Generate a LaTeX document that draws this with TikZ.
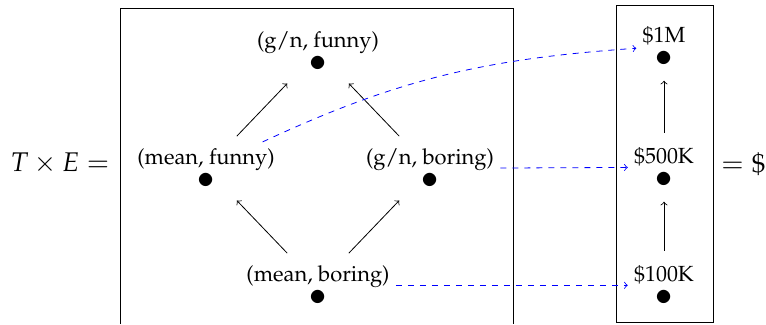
\documentclass[tikz,border=0pt,11pt]{standalone}
\usepackage[T1]{fontenc}
\usepackage{mathpazo}
\usetikzlibrary{positioning}
\newcommand{\dotmark}{\scalebox{1.5}{$\bullet$}}

\begin{document}
\begin{tikzpicture}[>=to, on grid,
      st/.style={align=center, inner sep=3pt},
      up/.style={->, shorten >=4pt, shorten <=4pt},
      map/.style={->, blue, dashed}]
    \useasboundingbox (0,0) rectangle (13.46,5.694);
    % the product T x E
    \node[st] (mb) at (5.588,0.68) {(mean, boring)\\[-1.5pt]\dotmark};
    \node[st, above left=2.056cm and 1.968cm of mb] (mf) {(mean, funny)\\[-1.5pt]\dotmark};
    \node[st, above right=2.056cm and 1.968cm of mb] (gb) {(g/n, boring)\\[-1.5pt]\dotmark};
    \node[st, above=4.112cm of mb] (gf) {(g/n, funny)\\[-1.5pt]\dotmark};
    \draw (2.109,0) |- (9.015,5.553) -- (9.015,0);
    % the chain of payoffs
    \node[st, right=6.08cm of mb] (k1) {\$100K\\[-1.5pt]\dotmark};
    \node[st, above=2.074cm of k1] (k5) {\$500K\\[-1.5pt]\dotmark};
    \node[st, above=2.126cm of k5] (m1) {\$1M\\[-1.5pt]\dotmark};
    \draw (10.825,0.035) rectangle (12.530,5.606);
    \node (lhs) at (1.054,2.83) {\fontsize{13.5}{16}\selectfont $T \times E =$};
    \node[anchor=east, inner sep=0pt] (rhs) at (13.46,2.80) {\fontsize{13.5}{16}\selectfont $= \$$};
    \draw[up] (mb) -- (mf); \draw[up] (mb) -- (gb);
    \draw[up] (mf) -- (gf); \draw[up] (gb) -- (gf);
    \draw[up] (k1) -- (k5); \draw[up] (k5) -- (m1);
    \draw[map] (mf) to[out=25, in=184] (m1);
    \draw[map] (gb) -- (k5);
    \draw[map] (mb) -- (k1);
  \end{tikzpicture}
\end{document}
